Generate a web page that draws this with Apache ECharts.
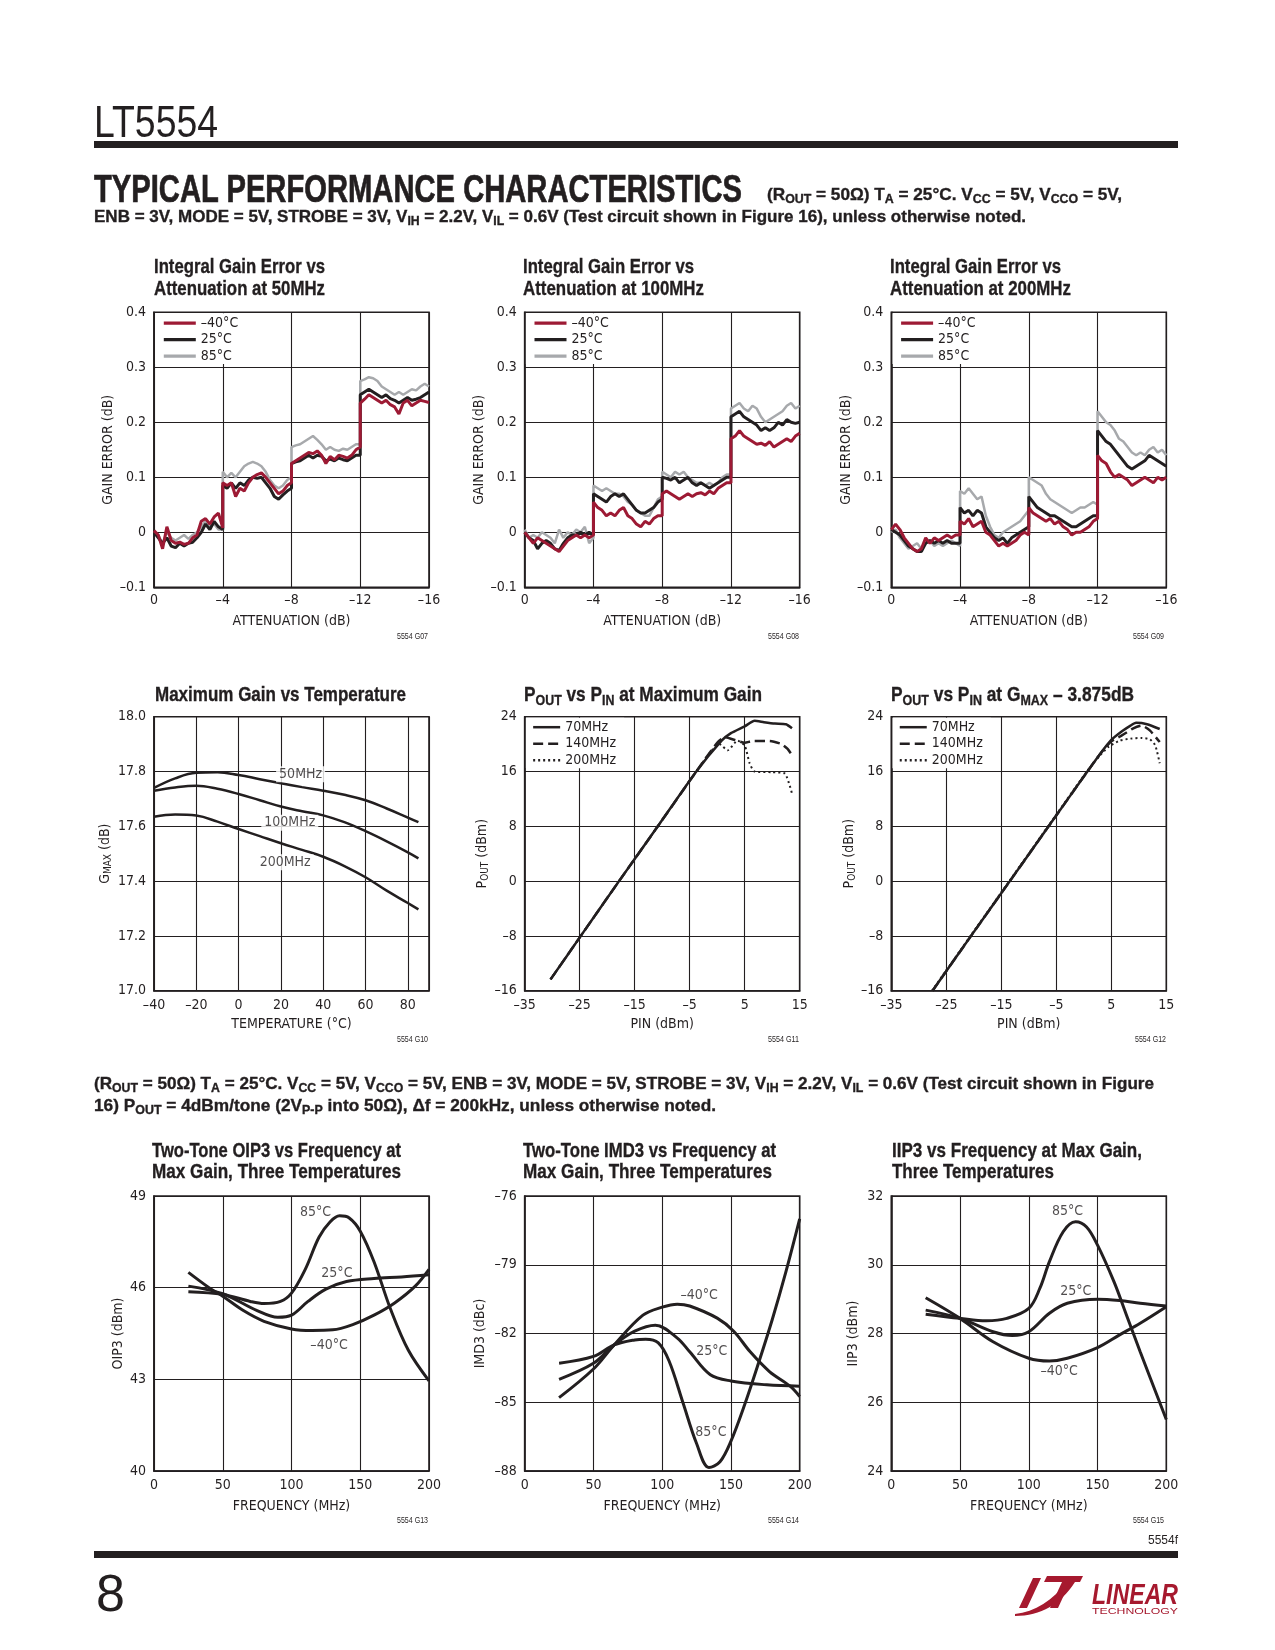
<!DOCTYPE html>
<html>
<head>
<meta charset="utf-8">
<title>LT5554 Typical Performance Characteristics</title>
<script src="https://cdn.jsdelivr.net/npm/echarts@6.0.0/dist/echarts.min.js"></script>
<style>
html,body{margin:0;padding:0;background:#fff;}
#page{position:relative;width:1275px;height:1650px;overflow:hidden;background:#fff;color:#231f20;font-family:"Liberation Sans",Arial,sans-serif;}
#chart{position:absolute;left:0;top:0;width:1275px;height:1650px;}
.t{position:absolute;white-space:nowrap;line-height:1;z-index:2;}
.b{font-weight:bold;-webkit-text-stroke:0.35px #231f20;}
.h{-webkit-text-stroke:0.7px #231f20;}
sub{font-size:72%;vertical-align:-0.28em;line-height:0;}
.bar{position:absolute;background:#231f20;z-index:2;}
#logo{position:absolute;left:1013px;top:1574px;width:166px;height:42px;z-index:2;}
</style>
</head>
<body>
<div id="page">
<div id="chart"></div>
<div class="bar" style="left:94px;top:141px;width:1084px;height:7px"></div>
<div class="bar" style="left:94px;top:1551px;width:1084px;height:7px"></div>

<div class="t" data-x="94" data-b="137" data-fs="44" data-w="124">LT5554</div>
<div class="t b h" data-x="94" data-b="202" data-fs="38" data-w="648">TYPICAL PERFORMANCE CHARACTERISTICS</div>
<div class="t b" data-x="767" data-b="200" data-fs="16.5" data-w="355">(R<sub>OUT</sub> = 50Ω) T<sub>A</sub> = 25°C. V<sub>CC</sub> = 5V, V<sub>CCO</sub> = 5V,</div>
<div class="t b" data-x="94" data-b="222" data-fs="16.5" data-w="932">ENB = 3V, MODE = 5V, STROBE = 3V, V<sub>IH</sub> = 2.2V, V<sub>IL</sub> = 0.6V (Test circuit shown in Figure 16), unless otherwise noted.</div>

<div class="t b" data-x="154" data-b="273" data-fs="20.5" data-w="171">Integral Gain Error vs</div>
<div class="t b" data-x="154" data-b="295" data-fs="20.5" data-w="171">Attenuation at 50MHz</div>
<div class="t b" data-x="523" data-b="273" data-fs="20.5" data-w="171">Integral Gain Error vs</div>
<div class="t b" data-x="523" data-b="295" data-fs="20.5" data-w="181">Attenuation at 100MHz</div>
<div class="t b" data-x="890" data-b="273" data-fs="20.5" data-w="171">Integral Gain Error vs</div>
<div class="t b" data-x="890" data-b="295" data-fs="20.5" data-w="181">Attenuation at 200MHz</div>

<div class="t b" data-x="155" data-b="701" data-fs="20.5" data-w="251">Maximum Gain vs Temperature</div>
<div class="t b" data-x="524" data-b="701" data-fs="20.5" data-w="238">P<sub>OUT</sub> vs P<sub>IN</sub> at Maximum Gain</div>
<div class="t b" data-x="891" data-b="701" data-fs="20.5" data-w="243">P<sub>OUT</sub> vs P<sub>IN</sub> at G<sub>MAX</sub> – 3.875dB</div>

<div class="t b" data-x="94" data-b="1089" data-fs="16.5" data-w="1060">(R<sub>OUT</sub> = 50Ω) T<sub>A</sub> = 25°C. V<sub>CC</sub> = 5V, V<sub>CCO</sub> = 5V, ENB = 3V, MODE = 5V, STROBE = 3V, V<sub>IH</sub> = 2.2V, V<sub>IL</sub> = 0.6V (Test circuit shown in Figure</div>
<div class="t b" data-x="94" data-b="1111" data-fs="16.5" data-w="622">16) P<sub>OUT</sub> = 4dBm/tone (2V<sub>P-P</sub> into 50Ω), Δf = 200kHz, unless otherwise noted.</div>

<div class="t b" data-x="152" data-b="1157" data-fs="20.5" data-w="249">Two-Tone OIP3 vs Frequency at</div>
<div class="t b" data-x="152" data-b="1178" data-fs="20.5" data-w="249">Max Gain, Three Temperatures</div>
<div class="t b" data-x="523" data-b="1157" data-fs="20.5" data-w="253">Two-Tone IMD3 vs Frequency at</div>
<div class="t b" data-x="523" data-b="1178" data-fs="20.5" data-w="249">Max Gain, Three Temperatures</div>
<div class="t b" data-x="892" data-b="1157" data-fs="20.5" data-w="250">IIP3 vs Frequency at Max Gain,</div>
<div class="t b" data-x="892" data-b="1178" data-fs="20.5" data-w="162">Three Temperatures</div>

<div class="t" data-r="428" data-b="639" data-fs="8.5" data-w="31">5554 G07</div>
<div class="t" data-r="799" data-b="639" data-fs="8.5" data-w="31">5554 G08</div>
<div class="t" data-r="1164" data-b="639" data-fs="8.5" data-w="31">5554 G09</div>
<div class="t" data-r="428" data-b="1042" data-fs="8.5" data-w="31">5554 G10</div>
<div class="t" data-r="799" data-b="1042" data-fs="8.5" data-w="31">5554 G11</div>
<div class="t" data-r="1166" data-b="1042" data-fs="8.5" data-w="31">5554 G12</div>
<div class="t" data-r="428" data-b="1523" data-fs="8.5" data-w="31">5554 G13</div>
<div class="t" data-r="799" data-b="1523" data-fs="8.5" data-w="31">5554 G14</div>
<div class="t" data-r="1164" data-b="1523" data-fs="8.5" data-w="31">5554 G15</div>
<div class="t" data-r="1178" data-b="1544" data-fs="12" data-w="30">5554f</div>
<div class="t" data-x="96" data-b="1611" data-fs="52">8</div>

<svg id="logo" viewBox="0 0 166 42" xmlns="http://www.w3.org/2000/svg">
  <path d="M2,40 C22,38 40,26 54,8 L62,8 C48,30 28,42 2,42 Z" fill="#a6192e"/>
  <polygon points="34,2 70,2 67,8 31,8" fill="#a6192e"/>
  <polygon points="49,8 57,8 45,34 37,34" fill="#a6192e"/>
  <polygon points="20,4 28,4 14,34 6,34" fill="#a6192e"/>
  <text x="79" y="30" font-family="Liberation Sans, Arial, sans-serif" font-weight="bold" font-style="italic" font-size="30" fill="#a6192e" textLength="86" lengthAdjust="spacingAndGlyphs">LINEAR</text>
  <text x="79" y="40" font-family="Liberation Sans, Arial, sans-serif" font-size="9" fill="#a6192e" textLength="86" lengthAdjust="spacingAndGlyphs">TECHNOLOGY</text>
</svg>
</div>

<script>
// ---------------- DATA ----------------
// Row 1: integral gain error vs attenuation (x in dB, duplicated x at each 4dB step)
const attenuation = [
  0,-0.25,-0.5,-0.75,-1,-1.25,-1.5,-1.75,-2,-2.25,-2.5,-2.75,-3,-3.25,-3.5,-3.75,-4,
  -4,-4.25,-4.5,-4.75,-5,-5.25,-5.5,-5.75,-6,-6.25,-6.5,-6.75,-7,-7.25,-7.5,-7.75,-8,
  -8,-8.25,-8.5,-8.75,-9,-9.25,-9.5,-9.75,-10,-10.25,-10.5,-10.75,-11,-11.25,-11.5,-11.75,-12,
  -12,-12.25,-12.5,-12.75,-13,-13.25,-13.5,-13.75,-14,-14.25,-14.5,-14.75,-15,-15.25,-15.5,-15.75,-16
];
const gainErr50_m40 = [
  0.003,-0.005,-0.03,0.01,-0.015,-0.02,-0.018,-0.022,-0.02,-0.01,-0.005,0.02,0.025,0.015,0.028,0.035,0.008,
  0.09,0.085,0.09,0.065,0.08,0.075,0.09,0.1,0.105,0.108,0.1,0.09,0.08,0.07,0.075,0.085,0.09,
  0.125,0.13,0.135,0.14,0.145,0.143,0.148,0.14,0.125,0.138,0.132,0.14,0.138,0.135,0.14,0.15,0.155,
  0.235,0.242,0.25,0.245,0.24,0.235,0.24,0.232,0.228,0.215,0.235,0.24,0.23,0.235,0.24,0.238,0.236
];
const gainErr50_25 = [
  0.0,-0.01,-0.02,-0.01,-0.025,-0.028,-0.02,-0.025,-0.02,-0.018,-0.01,0.0,0.015,0.005,0.02,0.01,0.005,
  0.085,0.08,0.09,0.08,0.09,0.085,0.095,0.1,0.098,0.1,0.09,0.08,0.065,0.06,0.068,0.075,0.08,
  0.125,0.128,0.13,0.135,0.14,0.135,0.14,0.138,0.13,0.133,0.13,0.135,0.132,0.13,0.135,0.14,0.14,
  0.25,0.255,0.26,0.255,0.25,0.245,0.25,0.243,0.24,0.235,0.24,0.245,0.24,0.242,0.245,0.25,0.255
];
const gainErr50_85 = [
  0.0,-0.005,-0.02,0.0,-0.01,-0.015,-0.01,-0.005,-0.012,-0.005,0.0,0.01,0.02,0.01,0.015,0.005,0.005,
  0.11,0.1,0.108,0.1,0.11,0.12,0.125,0.128,0.125,0.12,0.11,0.095,0.085,0.08,0.085,0.095,0.1,
  0.155,0.158,0.16,0.165,0.17,0.175,0.168,0.16,0.15,0.155,0.15,0.148,0.152,0.15,0.155,0.16,0.16,
  0.275,0.278,0.282,0.28,0.275,0.265,0.26,0.255,0.25,0.255,0.25,0.255,0.26,0.258,0.265,0.27,0.265
];
const gainErr100_m40 = [
  0.0,-0.01,-0.02,-0.01,-0.015,-0.02,-0.025,-0.03,-0.035,-0.025,-0.015,-0.01,-0.005,-0.01,-0.005,-0.01,-0.005,
  0.055,0.045,0.04,0.03,0.035,0.03,0.04,0.045,0.03,0.025,0.015,0.01,0.02,0.015,0.025,0.03,0.03,
  0.07,0.075,0.07,0.065,0.06,0.065,0.07,0.065,0.07,0.072,0.068,0.075,0.07,0.08,0.085,0.09,0.09,
  0.17,0.175,0.185,0.175,0.17,0.165,0.16,0.162,0.158,0.165,0.155,0.16,0.165,0.17,0.165,0.175,0.18
];
const gainErr100_25 = [
  0.0,-0.01,-0.015,-0.03,-0.02,-0.015,-0.02,-0.03,-0.033,-0.02,-0.01,-0.005,-0.005,0.0,-0.005,0.0,-0.005,
  0.07,0.065,0.06,0.055,0.065,0.07,0.065,0.07,0.06,0.05,0.04,0.035,0.035,0.04,0.045,0.055,0.06,
  0.1,0.098,0.095,0.1,0.09,0.095,0.1,0.09,0.085,0.09,0.085,0.08,0.085,0.09,0.095,0.1,0.1,
  0.21,0.215,0.22,0.21,0.205,0.2,0.195,0.185,0.19,0.185,0.19,0.2,0.195,0.205,0.2,0.198,0.2
];
const gainErr100_85 = [
  0.005,-0.01,-0.005,-0.01,0.0,-0.005,-0.01,-0.02,0.005,-0.01,0.0,-0.005,0.005,0.0,0.01,-0.02,-0.01,
  0.085,0.08,0.075,0.08,0.075,0.07,0.07,0.065,0.055,0.05,0.04,0.035,0.03,0.03,0.045,0.06,0.065,
  0.11,0.105,0.1,0.11,0.105,0.11,0.1,0.095,0.09,0.09,0.085,0.09,0.085,0.09,0.1,0.105,0.105,
  0.225,0.23,0.235,0.225,0.22,0.23,0.225,0.21,0.2,0.205,0.21,0.215,0.22,0.23,0.235,0.225,0.23
];
const gainErr200_m40 = [
  0.005,0.015,0.005,-0.01,-0.02,-0.03,-0.035,-0.03,-0.01,-0.02,-0.01,-0.015,-0.01,-0.005,-0.01,-0.005,-0.005,
  0.02,0.015,0.025,0.01,0.015,0.02,0.0,-0.005,-0.015,-0.025,-0.02,-0.025,-0.02,-0.015,-0.005,0.0,-0.005,
  0.045,0.035,0.03,0.025,0.02,0.025,0.015,0.02,0.01,0.005,-0.005,0.0,0.0,0.005,0.01,0.02,0.025,
  0.14,0.13,0.125,0.11,0.1,0.105,0.1,0.095,0.085,0.09,0.095,0.1,0.095,0.09,0.1,0.095,0.1
];
const gainErr200_25 = [
  0.005,0.0,-0.005,-0.015,-0.025,-0.03,-0.035,-0.035,-0.02,-0.015,-0.02,-0.015,-0.02,-0.015,-0.02,-0.02,-0.02,
  0.045,0.035,0.04,0.03,0.04,0.035,0.01,0.0,-0.01,-0.015,-0.01,-0.02,-0.01,-0.005,0.0,0.005,0.01,
  0.065,0.055,0.045,0.04,0.035,0.03,0.03,0.025,0.02,0.015,0.01,0.01,0.015,0.02,0.025,0.03,0.03,
  0.185,0.175,0.165,0.16,0.15,0.14,0.13,0.12,0.115,0.12,0.125,0.13,0.14,0.135,0.13,0.125,0.12
];
const gainErr200_85 = [
  0.0,0.005,-0.01,-0.02,-0.03,-0.025,-0.02,-0.03,-0.02,-0.015,-0.025,-0.02,-0.025,-0.02,-0.015,-0.02,-0.025,
  0.075,0.07,0.08,0.07,0.06,0.065,0.03,0.01,-0.005,-0.01,0.0,0.005,0.01,0.015,0.02,0.03,0.04,
  0.1,0.095,0.09,0.085,0.07,0.06,0.055,0.05,0.045,0.04,0.035,0.04,0.045,0.045,0.05,0.055,0.05,
  0.22,0.21,0.2,0.195,0.185,0.17,0.165,0.155,0.145,0.14,0.145,0.14,0.15,0.155,0.145,0.15,0.14
];
const tempLegend = ['\u201340°C', '25°C', '85°C'];

// Row 2, chart 1: maximum gain vs temperature
const temperature = [-40,-30,-20,-10,0,10,20,30,40,50,60,70,80,85];
const gmax50 = [17.74,17.775,17.795,17.797,17.787,17.772,17.757,17.743,17.73,17.715,17.695,17.665,17.632,17.615];
const gmax100 = [17.73,17.742,17.748,17.737,17.718,17.695,17.672,17.655,17.64,17.615,17.582,17.545,17.505,17.483];
const gmax200 = [17.635,17.643,17.639,17.617,17.59,17.564,17.538,17.514,17.489,17.455,17.414,17.365,17.32,17.297];
const gmaxLabels = [[29.3,17.79,'50MHz'],[24.2,17.613,'100MHz'],[22.0,17.469,'200MHz']];

// Row 2, charts 2-3: POUT vs PIN
const freqLegend = ['70MHz','140MHz','200MHz'];
const pin70_max = [-30.3,-24.8,-17.85,-10.8,-3.8,0.8,2.5,5.0,6.8,8.5,10.5,12.5,13.6];
const pout70_max = [-14.35,-8,0,8,16,20.5,21.6,22.6,23.4,23.2,23.0,22.9,22.3];
const pin140_max = [-30.3,-24.8,-17.85,-10.8,-3.8,0.0,1.4,3.2,5.0,6.5,9.5,11.7,12.8,13.6];
const pout140_max = [-14.35,-8,0,8,16,20.2,21.0,20.6,20.2,20.45,20.45,20.0,19.3,18.4];
const pin200_max = [-30.3,-24.8,-17.85,-10.8,-3.8,0.4,1.9,3.7,5.0,5.9,6.8,9.9,12.3,13.2,13.6];
const pout200_max = [-14.35,-8,0,8,16,20.0,19.1,20.5,19.8,17.2,16.0,15.9,15.7,13.9,12.8];
const pin70_att = [-27.5,-20.5,-13.45,-6.4,0.65,3.0,5.0,7.0,8.5,9.5,11.5,13.8];
const pout70_att = [-16,-8,0,8,16,18.6,20.6,21.9,22.7,23.1,22.9,22.2];
const pin140_att = [-27.5,-20.5,-13.45,-6.4,0.65,3.0,5.0,7.0,9.0,10.5,12.0,13.8];
const pout140_att = [-16,-8,0,8,16,18.6,20.4,21.3,22.3,22.7,22.0,20.3];
const pin200_att = [-27.6,-20.6,-13.55,-6.5,0.55,3.0,4.5,6.5,8.5,10.5,12.0,13.0,13.8];
const pout200_att = [-16,-8,0,8,16,18.4,19.6,20.5,20.8,20.9,20.7,19.8,17.2];
const PIN_AXIS_MIN = -35; // PIN axis runs -35..15 dBm in 10 dB steps

// Row 3: two-tone OIP3, IMD3, IIP3 vs frequency
const oipFreqM40 = [25,40,50,65,80,100,115,130,145,160,175,190,200];
const oipM40 = [46.5,46.0,45.72,45.25,44.9,44.65,44.6,44.62,44.8,45.1,45.5,46.05,46.6];
const oipFreq25 = [25,50,75,90,100,112,125,140,160,180,200];
const oip25 = [46.05,45.8,45.25,45.03,45.1,45.55,45.95,46.2,46.3,46.35,46.42];
const oipFreq85 = [25,50,70,80,92,100,110,120,128,135,142,150,160,172,185,200];
const oip85 = [45.87,45.78,45.55,45.48,45.55,45.82,46.6,47.65,48.15,48.35,48.28,47.85,46.85,45.3,43.95,42.95];
const oipLabels = [[117.5,48.47,'85°C'],[133,46.48,'25°C'],[127.3,44.12,'\u201340°C']];
const OIP3_AXIS_MIN = 40; // OIP3 axis runs 40..49 dBm in 3 dB steps

const imdFreqM40 = [25,50,65,86,100,111,120,140,152,164,178,193,200];
const imdM40 = [-84.8,-83.55,-82.5,-81.2,-80.85,-80.72,-80.8,-81.33,-81.9,-82.8,-83.66,-84.3,-84.75];
const imdFreq25 = [25,50,65,80,95,111,120,135,150,176,200];
const imd25 = [-84.0,-83.3,-82.5,-81.9,-81.64,-82.2,-82.8,-83.8,-84.07,-84.24,-84.3];
const imdFreq85 = [25,50,65,80,88,97,105,115,125,134,142,150,160,170,180,190,200];
const imd85 = [-83.3,-83.0,-82.5,-82.28,-82.25,-82.4,-83.2,-85.0,-86.8,-87.85,-87.6,-86.7,-85.1,-83.3,-81.4,-79.3,-77.0];
const imdLabels = [[126.9,-80.32,'\u201340°C'],[136,-82.76,'25°C'],[135.4,-86.3,'85°C']];
const IMD3_AXIS_MIN = -88; // IMD3 axis runs -88..-76 dBc in 3 dB steps

const iipFreqM40 = [25,50,74,100,115,128,150,166,181,200];
const iipM40 = [29.04,28.44,27.76,27.28,27.2,27.28,27.59,27.96,28.3,28.78];
const iipFreq25 = [25,50,74,88,100,115,128,150,166,181,200];
const iip25 = [28.68,28.44,28.05,27.94,28.05,28.59,28.88,29.0,28.96,28.88,28.8];
const iipFreq85 = [25,50,69,84,100,108,115,125,134,142,150,162,171,181,200];
const iip85 = [28.56,28.44,28.37,28.44,28.73,29.31,30.09,30.96,31.25,31.1,30.57,29.5,28.54,27.47,25.5];
const iipLabels = [[128.1,31.54,'85°C'],[134.2,29.22,'25°C'],[122.1,26.89,'\u201340°C']];

// ---------------- TEXT LAYOUT ----------------
document.querySelectorAll('.t').forEach(el => {
  const f = +el.dataset.fs;
  el.style.fontSize = f + 'px';
  let w = el.getBoundingClientRect().width;
  if (el.dataset.w) {
    el.style.transformOrigin = '0 0';
    el.style.transform = 'scaleX(' + (+el.dataset.w / w) + ')';
    w = +el.dataset.w;
  }
  el.style.top = (+el.dataset.b - 0.8465 * f) + 'px';
  el.style.left = (el.dataset.r ? (+el.dataset.r - w) : +el.dataset.x) + 'px';
});

// ---------------- CHARTS ----------------
const INK = '#231f20', RED = '#9d1a34', GRAY = '#a7a9ac';
const FONT = '"Liberation Sans Narrow","DejaVu Sans Condensed","Arial Narrow",sans-serif';
const COLS = [154, 524.7, 891.3];
const ROWS = [{top: 312.3, h: 275}, {top: 716.7, h: 274}, {top: 1196, h: 275}];
const PW = 275;
const dash = s => String(s).replace('-', '\u2013');
const isZero = v => Math.abs(v) < 1e-9;

const grids = [], xAxes = [], yAxes = [], series = [], legends = [];
function addGrid(r, c) {
  grids.push({left: COLS[c], top: ROWS[r].top, width: PW, height: ROWS[r].h, show: true,
    borderColor: INK, borderWidth: 1.6, backgroundColor: 'transparent'});
  return grids.length - 1;
}
const subRich = {
  a: {fontSize: 14, fontFamily: FONT, color: INK},
  s: {fontSize: 10, fontFamily: FONT, color: INK, padding: [6, 0, 0, 0]}
};
function axis(gi, o) {
  return {
    type: 'value', gridIndex: gi, min: o.min, max: o.max, interval: o.interval, inverse: !!o.inverse,
    name: o.name || '', nameLocation: 'middle', nameGap: o.nameGap, nameRotate: o.rotate || 0,
    nameTextStyle: {color: INK, fontSize: 14, fontFamily: FONT, rich: subRich},
    axisLine: {show: true, onZero: false, lineStyle: {color: INK, width: 1.6}},
    axisTick: {show: false},
    splitLine: {show: true, lineStyle: {color: INK, width: 1.1}},
    axisLabel: {color: INK, fontSize: 14, fontFamily: FONT, margin: o.margin, formatter: o.fmt,
      showMaxLabel: o.showMax !== false, showMinLabel: true}
  };
}
function line(gi, name, xs, ys, style, extra) {
  return Object.assign({
    type: 'line', name: name, xAxisIndex: gi, yAxisIndex: gi, symbol: 'none', showSymbol: false,
    data: xs.map((x, k) => [x, ys[k]]), lineStyle: style, itemStyle: {color: style.color},
    emphasis: {disabled: true}, silent: true
  }, extra || {});
}
function labels(gi, items, xOff, yOff, bg) {
  return {
    type: 'scatter', xAxisIndex: gi, yAxisIndex: gi, symbolSize: 0, silent: true, z: 6,
    data: items.map(d => ({value: [d[0] - xOff, d[1] - yOff], name: d[2]})),
    label: {show: true, position: 'inside', formatter: p => p.name, color: INK, fontSize: 14,
      fontFamily: FONT, backgroundColor: bg ? '#fff' : 'transparent', padding: [1, 3]}
  };
}
const hiddenSymbol = {opacity: 0, color: 'transparent', borderColor: 'transparent', borderWidth: 0};

// Row 1
const row1 = [
  [gainErr50_m40, gainErr50_25, gainErr50_85],
  [gainErr100_m40, gainErr100_25, gainErr100_85],
  [gainErr200_m40, gainErr200_25, gainErr200_85]
];
const yNameGap1 = [35, 34, 34];
row1.forEach((d, c) => {
  const gi = addGrid(0, c);
  xAxes.push(axis(gi, {min: -16, max: 0, interval: 4, inverse: true, name: 'ATTENUATION (dB)', nameGap: 27, margin: 6,
    fmt: v => isZero(v) ? '0' : dash(v)}));
  yAxes.push(axis(gi, {min: -0.1, max: 0.4, interval: 0.1, name: 'GAIN ERROR (dB)', rotate: 90, nameGap: yNameGap1[c], margin: 8,
    fmt: v => isZero(v) ? '0' : dash(v.toFixed(1))}));
  series.push(line(gi, tempLegend[2], attenuation, d[2], {color: GRAY, width: 2.5}));
  series.push(line(gi, tempLegend[1], attenuation, d[1], {color: INK, width: 3}));
  series.push(line(gi, tempLegend[0], attenuation, d[0], {color: RED, width: 3}));
  legends.push({orient: 'vertical', left: COLS[c] + 1.2, top: 313.3, padding: [2.75, 8, 1, 7],
    itemWidth: 32, itemHeight: 12, itemGap: 2.5, backgroundColor: '#fff', selectedMode: false,
    itemStyle: hiddenSymbol, lineStyle: {width: 3.2},
    textStyle: {color: INK, fontSize: 14, fontFamily: FONT}, data: tempLegend});
});

// Row 2, chart 1
(() => {
  const gi = addGrid(1, 0);
  xAxes.push(axis(gi, {min: -40, max: 90, interval: 20, showMax: false, name: 'TEMPERATURE (°C)', nameGap: 27, margin: 8,
    fmt: v => dash(v)}));
  yAxes.push(axis(gi, {min: 17, max: 18, interval: 0.2, name: '{a|G}{s|MAX}{a| (dB)}', rotate: 90, nameGap: 41, margin: 8,
    fmt: v => v.toFixed(1)}));
  const st = {color: INK, width: 2.5};
  series.push(line(gi, 'G50', temperature, gmax50, st, {smooth: 0.4}));
  series.push(line(gi, 'G100', temperature, gmax100, st, {smooth: 0.4}));
  series.push(line(gi, 'G200', temperature, gmax200, st, {smooth: 0.4}));
  series.push(labels(gi, gmaxLabels, 0, 0, true));
})();

// Row 2, charts 2-3
const poutSets = [
  [[pin70_max, pout70_max], [pin140_max, pout140_max], [pin200_max, pout200_max]],
  [[pin70_att, pout70_att], [pin140_att, pout140_att], [pin200_att, pout200_att]]
];
const freqStyles = [
  {color: INK, width: 2.5, type: 'solid'},
  {color: INK, width: 2.5, type: [10, 5]},
  {color: INK, width: 2, type: [2, 3]}
];
const yNameGap2 = [33, 31];
poutSets.forEach((set, k) => {
  const c = k + 1;
  const gi = addGrid(1, c);
  xAxes.push(axis(gi, {min: 0, max: 50, interval: 10, name: 'PIN (dBm)', nameGap: 27, margin: 8,
    fmt: v => dash(v + PIN_AXIS_MIN)}));
  yAxes.push(axis(gi, {min: -16, max: 24, interval: 8, name: '{a|P}{s|OUT}{a| (dBm)}', rotate: 90, nameGap: yNameGap2[k], margin: 8,
    fmt: v => dash(v)}));
  set.forEach((pair, j) => {
    series.push(line(gi, freqLegend[j], pair[0].map(p => p - PIN_AXIS_MIN), pair[1], freqStyles[j], {smooth: 0.2}));
  });
  legends.push({orient: 'vertical', left: COLS[c] + 1.2, top: 717.7, padding: [2.5, 8, 1, 6],
    itemWidth: 27, itemHeight: 12, itemGap: 2.5, backgroundColor: '#fff', selectedMode: false,
    itemStyle: hiddenSymbol, lineStyle: {width: 2.5},
    textStyle: {color: INK, fontSize: 14, fontFamily: FONT}, data: freqLegend});
});

// Row 3
const row3 = [
  {name: 'OIP3 (dBm)', gap: 29, min: 0, max: 9, interval: 3, off: OIP3_AXIS_MIN, fmt: v => String(v + OIP3_AXIS_MIN),
    sets: [[oipFreqM40, oipM40], [oipFreq25, oip25], [oipFreq85, oip85]], lab: oipLabels},
  {name: 'IMD3 (dBc)', gap: 37, min: 0, max: 12, interval: 3, off: IMD3_AXIS_MIN, fmt: v => dash(v + IMD3_AXIS_MIN),
    sets: [[imdFreqM40, imdM40], [imdFreq25, imd25], [imdFreq85, imd85]], lab: imdLabels},
  {name: 'IIP3 (dBm)', gap: 31, min: 24, max: 32, interval: 2, off: 0, fmt: v => String(v),
    sets: [[iipFreqM40, iipM40], [iipFreq25, iip25], [iipFreq85, iip85]], lab: iipLabels}
];
row3.forEach((d, c) => {
  const gi = addGrid(2, c);
  xAxes.push(axis(gi, {min: 0, max: 200, interval: 50, name: 'FREQUENCY (MHz)', nameGap: 28, margin: 7, fmt: v => String(v)}));
  yAxes.push(axis(gi, {min: d.min, max: d.max, interval: d.interval, name: d.name, rotate: 90, nameGap: d.gap, margin: 8, fmt: d.fmt}));
  d.sets.forEach((pair, j) => {
    series.push(line(gi, 'R3_' + c + '_' + j, pair[0], pair[1].map(v => v - d.off), {color: INK, width: 3}, {smooth: 0.35}));
  });
  series.push(labels(gi, d.lab, 0, d.off, false));
});

const chart = echarts.init(document.getElementById('chart'), null, {renderer: 'canvas'});
chart.setOption({
  animation: false,
  backgroundColor: 'transparent',
  textStyle: {fontFamily: FONT},
  grid: grids, xAxis: xAxes, yAxis: yAxes, series: series, legend: legends
});
</script>
</body>
</html>
